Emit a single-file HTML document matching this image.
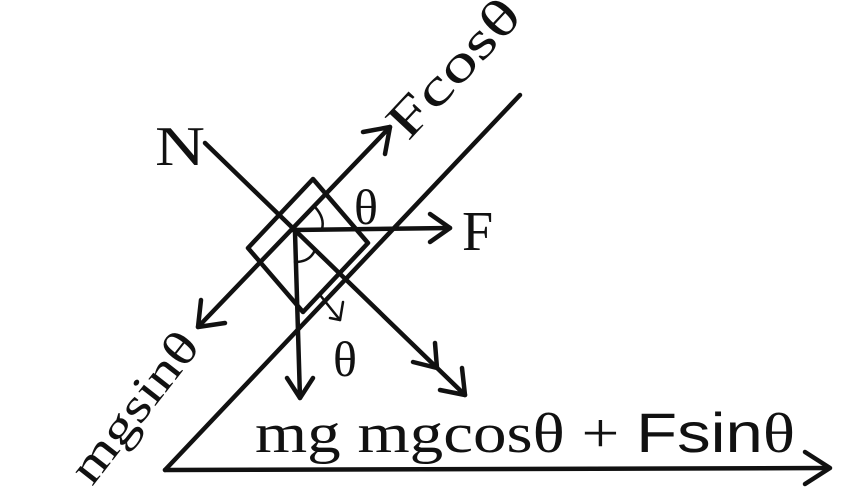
<!DOCTYPE html>
<html><head><meta charset="utf-8"><style>
html,body{margin:0;padding:0;background:#fff;}
svg{display:block}
text{font-family:"Liberation Serif",serif;fill:#111}
</style></head><body>
<svg width="844" height="503" viewBox="0 0 844 503" xmlns="http://www.w3.org/2000/svg">
<g stroke="#111" stroke-width="4.5" fill="none" stroke-linecap="round" stroke-linejoin="round">
<line x1="165" y1="470" x2="520" y2="95"/>
<line x1="165" y1="470" x2="828" y2="468"/>
<polyline points="805,452 830,468 805,484"/>
<polygon points="313,179 248,248 303,312 368,243"/>
<line x1="198" y1="327" x2="390" y2="127"/>
<polyline points="363,132 390,127 385,154"/>
<polyline points="201,300 198,327 225,323"/>
<line x1="205" y1="143" x2="465" y2="395"/>
<polyline points="440,390 465,395 462,368"/>
<polyline points="413,362 437,368 435,343"/>
<line x1="293" y1="230" x2="450" y2="228"/>
<polyline points="430,214 450,228 430,242"/>
<line x1="295" y1="232" x2="300" y2="398"/>
<polyline points="287,378 300,398 313,378"/>
<path d="M315,207 Q325,218 322,229" stroke-width="2.5"/>
<path d="M295,262 Q310,262 315,250" stroke-width="2.5"/>
<path d="M320,295 L340,320" stroke-width="2.5"/>
<polyline points="330,318 340,320 343,302" stroke-width="2.5"/>
</g>
<text x="155" y="165" font-size="56" textLength="50" lengthAdjust="spacingAndGlyphs">N</text>
<text x="354" y="224" font-size="50">θ</text>
<text x="462" y="250" font-size="56">F</text>
<text x="333" y="376" font-size="50">θ</text>
<text x="255" y="452" font-size="56" textLength="540" lengthAdjust="spacingAndGlyphs">mg mgcosθ + <tspan font-family="Liberation Sans,sans-serif">Fsin</tspan>θ</text>
<text transform="translate(408,142) rotate(-47)" font-size="52" textLength="170" lengthAdjust="spacingAndGlyphs">Fcosθ</text>
<text transform="translate(92,487) rotate(-52)" font-size="48" textLength="178" lengthAdjust="spacingAndGlyphs">mgsinθ</text>
</svg>
</body></html>
